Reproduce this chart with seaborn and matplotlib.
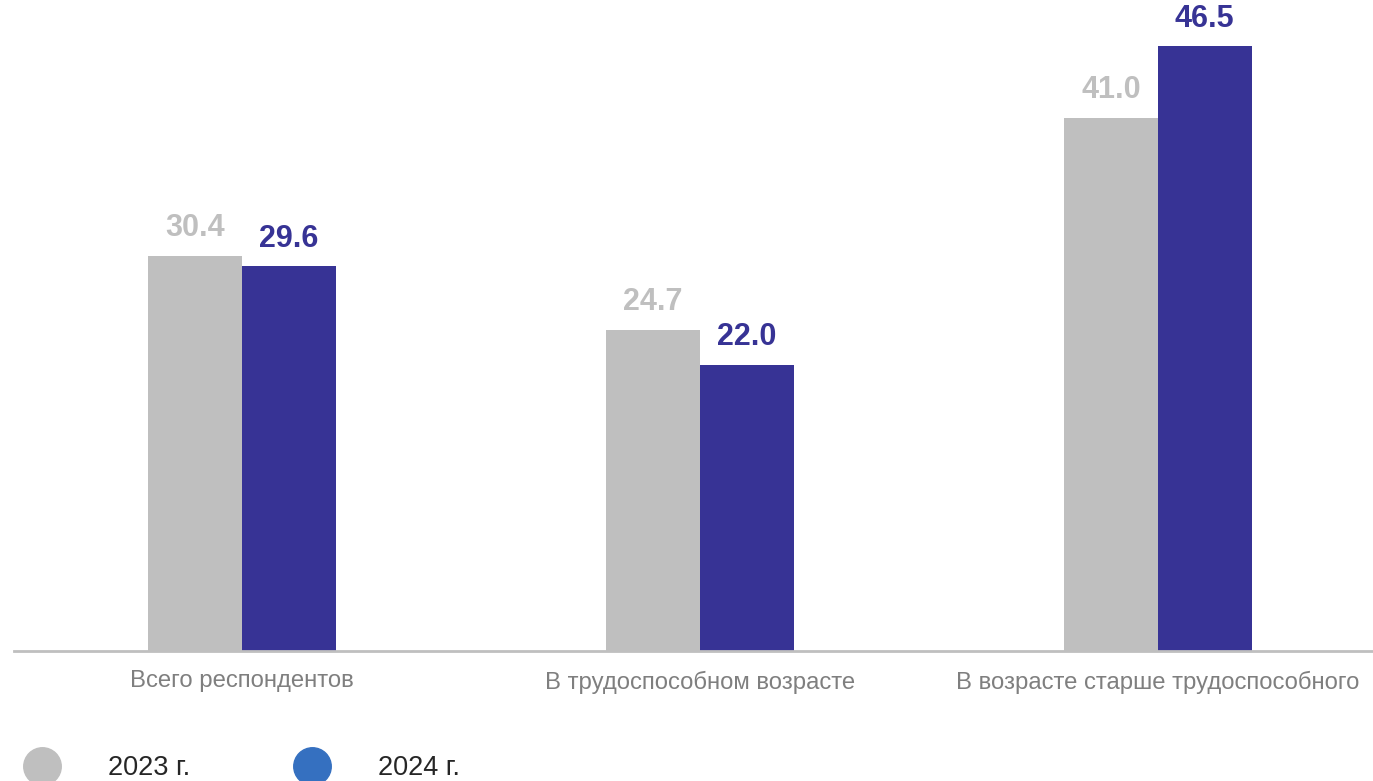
import pandas as pd
import matplotlib.pyplot as plt
import seaborn as sns
from matplotlib.lines import Line2D

categories = ["Всего респондентов", "В трудоспособном возрасте", "В возрасте старше трудоспособного"]
years = ["2023 г.", "2024 г."]
values_2023 = [30.4, 24.7, 41.0]
values_2024 = [29.6, 22.0, 46.5]

bar_colors = ["#bfbfbf", "#373395"]
legend_colors = ["#bfbfbf", "#3570c0"]

df = pd.DataFrame({
    "cat": categories * 2,
    "year": [years[0]] * 3 + [years[1]] * 3,
    "val": values_2023 + values_2024,
})

sns.set_theme(style="white")
plt.rcParams['font.family'] = ['Liberation Sans', 'DejaVu Sans']

fig = plt.figure(figsize=(13.73, 7.81), dpi=100)
ax = fig.add_axes([14 / 1373, (781 - 651) / 781, 1359 / 1373, 650 / 781])

sns.barplot(data=df, x="cat", y="val", hue="year", palette=bar_colors,
            width=0.41, gap=0, saturation=1, linewidth=0, ax=ax, legend=False)

for cont, col in zip(ax.containers, bar_colors):
    ax.bar_label(cont, fmt="%.1f", padding=9, color=col, fontsize=22, fontweight="bold")

ax.set_xlim(-0.498, 2.47)
ax.set_ylim(0, 50)
ax.set_xlabel("")
ax.set_ylabel("")
ax.set_yticks([])
ax.tick_params(axis="x", length=0, labelsize=17.2, labelcolor="#7f7f7f", pad=14)
for s in ["top", "left", "right"]:
    ax.spines[s].set_visible(False)
ax.spines["bottom"].set_color("#bfbfbf")
ax.spines["bottom"].set_linewidth(2)

handles = [Line2D([], [], marker="o", linestyle="", markersize=27,
                  markerfacecolor=c, markeredgecolor=c) for c in legend_colors]
fig.legend(handles, years, loc="center left", bbox_to_anchor=(7 / 1373, (781 - 768) / 781),
           ncol=2, frameon=False, fontsize=19.5, labelcolor="#262626",
           handlelength=2.0, handletextpad=1.44, columnspacing=3.5,
           borderaxespad=0, borderpad=0.3)

fig.savefig("out.png", dpi=100)
